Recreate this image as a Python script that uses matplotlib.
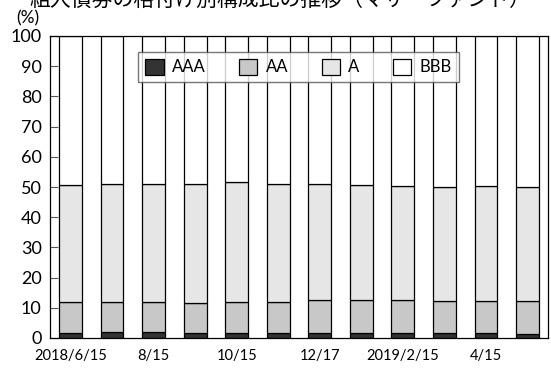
import matplotlib.pyplot as plt
import numpy as np

plt.rcParams['font.family'] = ['Lato', 'Noto Sans CJK JP', 'DejaVu Sans']

# Donnees : composition par notation (%)
dates = ['2018/6/15', '', '8/15', '', '10/15', '', '12/17', '', '2019/2/15', '', '4/15', '']
aaa = [1.8, 1.9, 1.9, 1.5, 1.5, 1.5, 1.5, 1.5, 1.5, 1.5, 1.5, 1.3]
aa_top = [11.8, 12.0, 12.0, 11.6, 11.8, 11.8, 12.7, 12.7, 12.7, 12.4, 12.3, 12.3]
a_top = [50.8, 50.9, 51.1, 50.9, 51.6, 50.9, 51.1, 50.8, 50.4, 50.1, 50.2, 50.0]
labels = ['AAA', 'AA', 'A', 'BBB']
colors = ['#333333', '#c8c8c8', '#e6e6e6', '#ffffff']

aaa = np.array(aaa)
aa = np.array(aa_top) - aaa
a = np.array(a_top) - np.array(aa_top)
bbb = 100 - np.array(a_top)

fig = plt.figure(figsize=(5.51, 3.69), dpi=100)
ax = fig.add_axes([50 / 551, 1 - 338 / 369, 498 / 551, 302 / 369])

x = np.arange(len(dates))
w = 0.55
bottom = np.zeros(len(dates))
for vals, lab, col in zip([aaa, aa, a, bbb], labels, colors):
    ax.bar(x, vals, w, bottom=bottom, color=col, edgecolor='black', linewidth=0.9, label=lab)
    bottom += vals

ax.set_xlim(-0.49, 11.49)
ax.set_ylim(0, 100)
ax.set_yticks(range(0, 101, 10))
ax.tick_params(axis='y', direction='in', length=5.5, width=0.8, labelsize=13, pad=6, color='#555555')
ax.set_xticks(x)
ax.set_xticklabels(dates)
ax.tick_params(axis='x', length=0, labelsize=10.5, pad=8)
for s in ax.spines.values():
    s.set_linewidth(0.9)

leg = ax.legend(loc='upper center', bbox_to_anchor=(0.499, 0.948), ncol=4, fontsize=12,
                frameon=True, fancybox=False, edgecolor='#555555', handlelength=1.1,
                handleheight=1.1, columnspacing=2.0, handletextpad=0.5, borderpad=0.42,
                borderaxespad=0)
leg.get_frame().set_linewidth(1.0)

fig.text(28 / 551, 1 - 18 / 369, '(%)', fontsize=12.5, ha='center', va='center')
fig.text(280 / 551, 1 - 1 / 369, '組入債券の格付け別構成比の推移（マザーファンド）', fontsize=15,
         ha='center', va='center')

plt.savefig('out.png', dpi=100)
